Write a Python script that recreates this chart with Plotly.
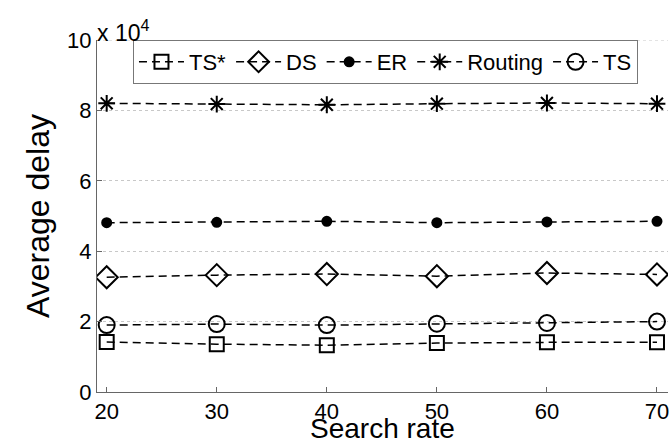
import plotly.graph_objects as go

search_rate = [20, 30, 40, 50, 60, 70]
ts_star = [14200, 13600, 13300, 13900, 14100, 14100]
ds = [32600, 33200, 33500, 32900, 33800, 33400]
er = [48100, 48200, 48500, 48100, 48300, 48500]
routing = [82000, 81800, 81600, 81900, 82100, 81900]
ts = [19000, 19300, 19000, 19400, 19600, 20000]

y_tickvals = [0, 20000, 40000, 60000, 80000, 100000]
y_ticktext = ["0", "2", "4", "6", "8", "10"]
x_tickvals = [20, 30, 40, 50, 60, 70]

series = [
    ("TS*", ts_star, "square-open", 14),
    ("DS", ds, "diamond-open", 17),
    ("ER", er, "circle", 9),
    ("Routing", routing, "asterisk-open", 14),
    ("TS", ts, "circle-open", 16),
]

fig = go.Figure()
for name, vals, sym, size in series:
    fig.add_trace(go.Scatter(
        x=search_rate, y=vals, name=name, mode="lines+markers",
        line=dict(color="black", width=1.5, dash="8px,5px"),
        marker=dict(symbol=sym, size=size, color="black",
                    line=dict(color="black", width=2)),
    ))

font_family = "Liberation Sans, Arial, sans-serif"
fig.add_shape(type="line", xref="paper", x0=0, x1=1, yref="y",
              y0=100000, y1=100000, layer="below",
              line=dict(color="#c8c8c8", width=1, dash="dot"))
fig.update_layout(
    width=672, height=446,
    margin=dict(l=97, r=4, t=40, b=54),
    paper_bgcolor="white", plot_bgcolor="white",
    font=dict(family=font_family, size=22, color="black"),
    showlegend=True,
    legend=dict(
        orientation="h", x=0.063, y=1.0, xanchor="left", yanchor="top",
        bgcolor="white", bordercolor="#777", borderwidth=1,
        font=dict(size=22), itemwidth=45, tracegroupgap=0,
    ),
    xaxis=dict(
        range=[19.12, 71], tickvals=x_tickvals, showgrid=False, zeroline=False,
        showline=True, linecolor="#666", linewidth=1,
        ticks="inside", ticklen=5, tickcolor="#666",
        tickfont=dict(size=22),
    ),
    yaxis=dict(
        range=[0, 100000], tickvals=y_tickvals, ticktext=y_ticktext,
        showgrid=True, gridcolor="#c8c8c8", griddash="dot", gridwidth=1,
        zeroline=False, showline=True, linecolor="#666", linewidth=1,
        ticks="inside", ticklen=5, tickcolor="#666",
        tickfont=dict(size=22),
    ),
    annotations=[
        dict(
            text="x 10<sup>4</sup>", xref="paper", yref="paper", x=0, y=1,
            xanchor="left", yanchor="bottom", showarrow=False,
            font=dict(size=23, family=font_family, color="black"),
            xshift=-2, yshift=-8,
        ),
        dict(
            text="Search rate", xref="paper", yref="paper", x=0.5, y=0,
            xanchor="center", yanchor="bottom", showarrow=False,
            font=dict(size=28, family=font_family, color="black"),
            yshift=-54,
        ),
        dict(
            text="Average delay", xref="paper", yref="paper", x=0, y=0.5,
            xanchor="center", yanchor="middle", showarrow=False,
            textangle=-90,
            font=dict(size=32, family=font_family, color="black"),
            xshift=-59,
        ),
    ],
)

fig.write_html("out.html", config={"displayModeBar": False},
               post_script="document.body.style.margin='0px';document.body.style.padding='0px';")
